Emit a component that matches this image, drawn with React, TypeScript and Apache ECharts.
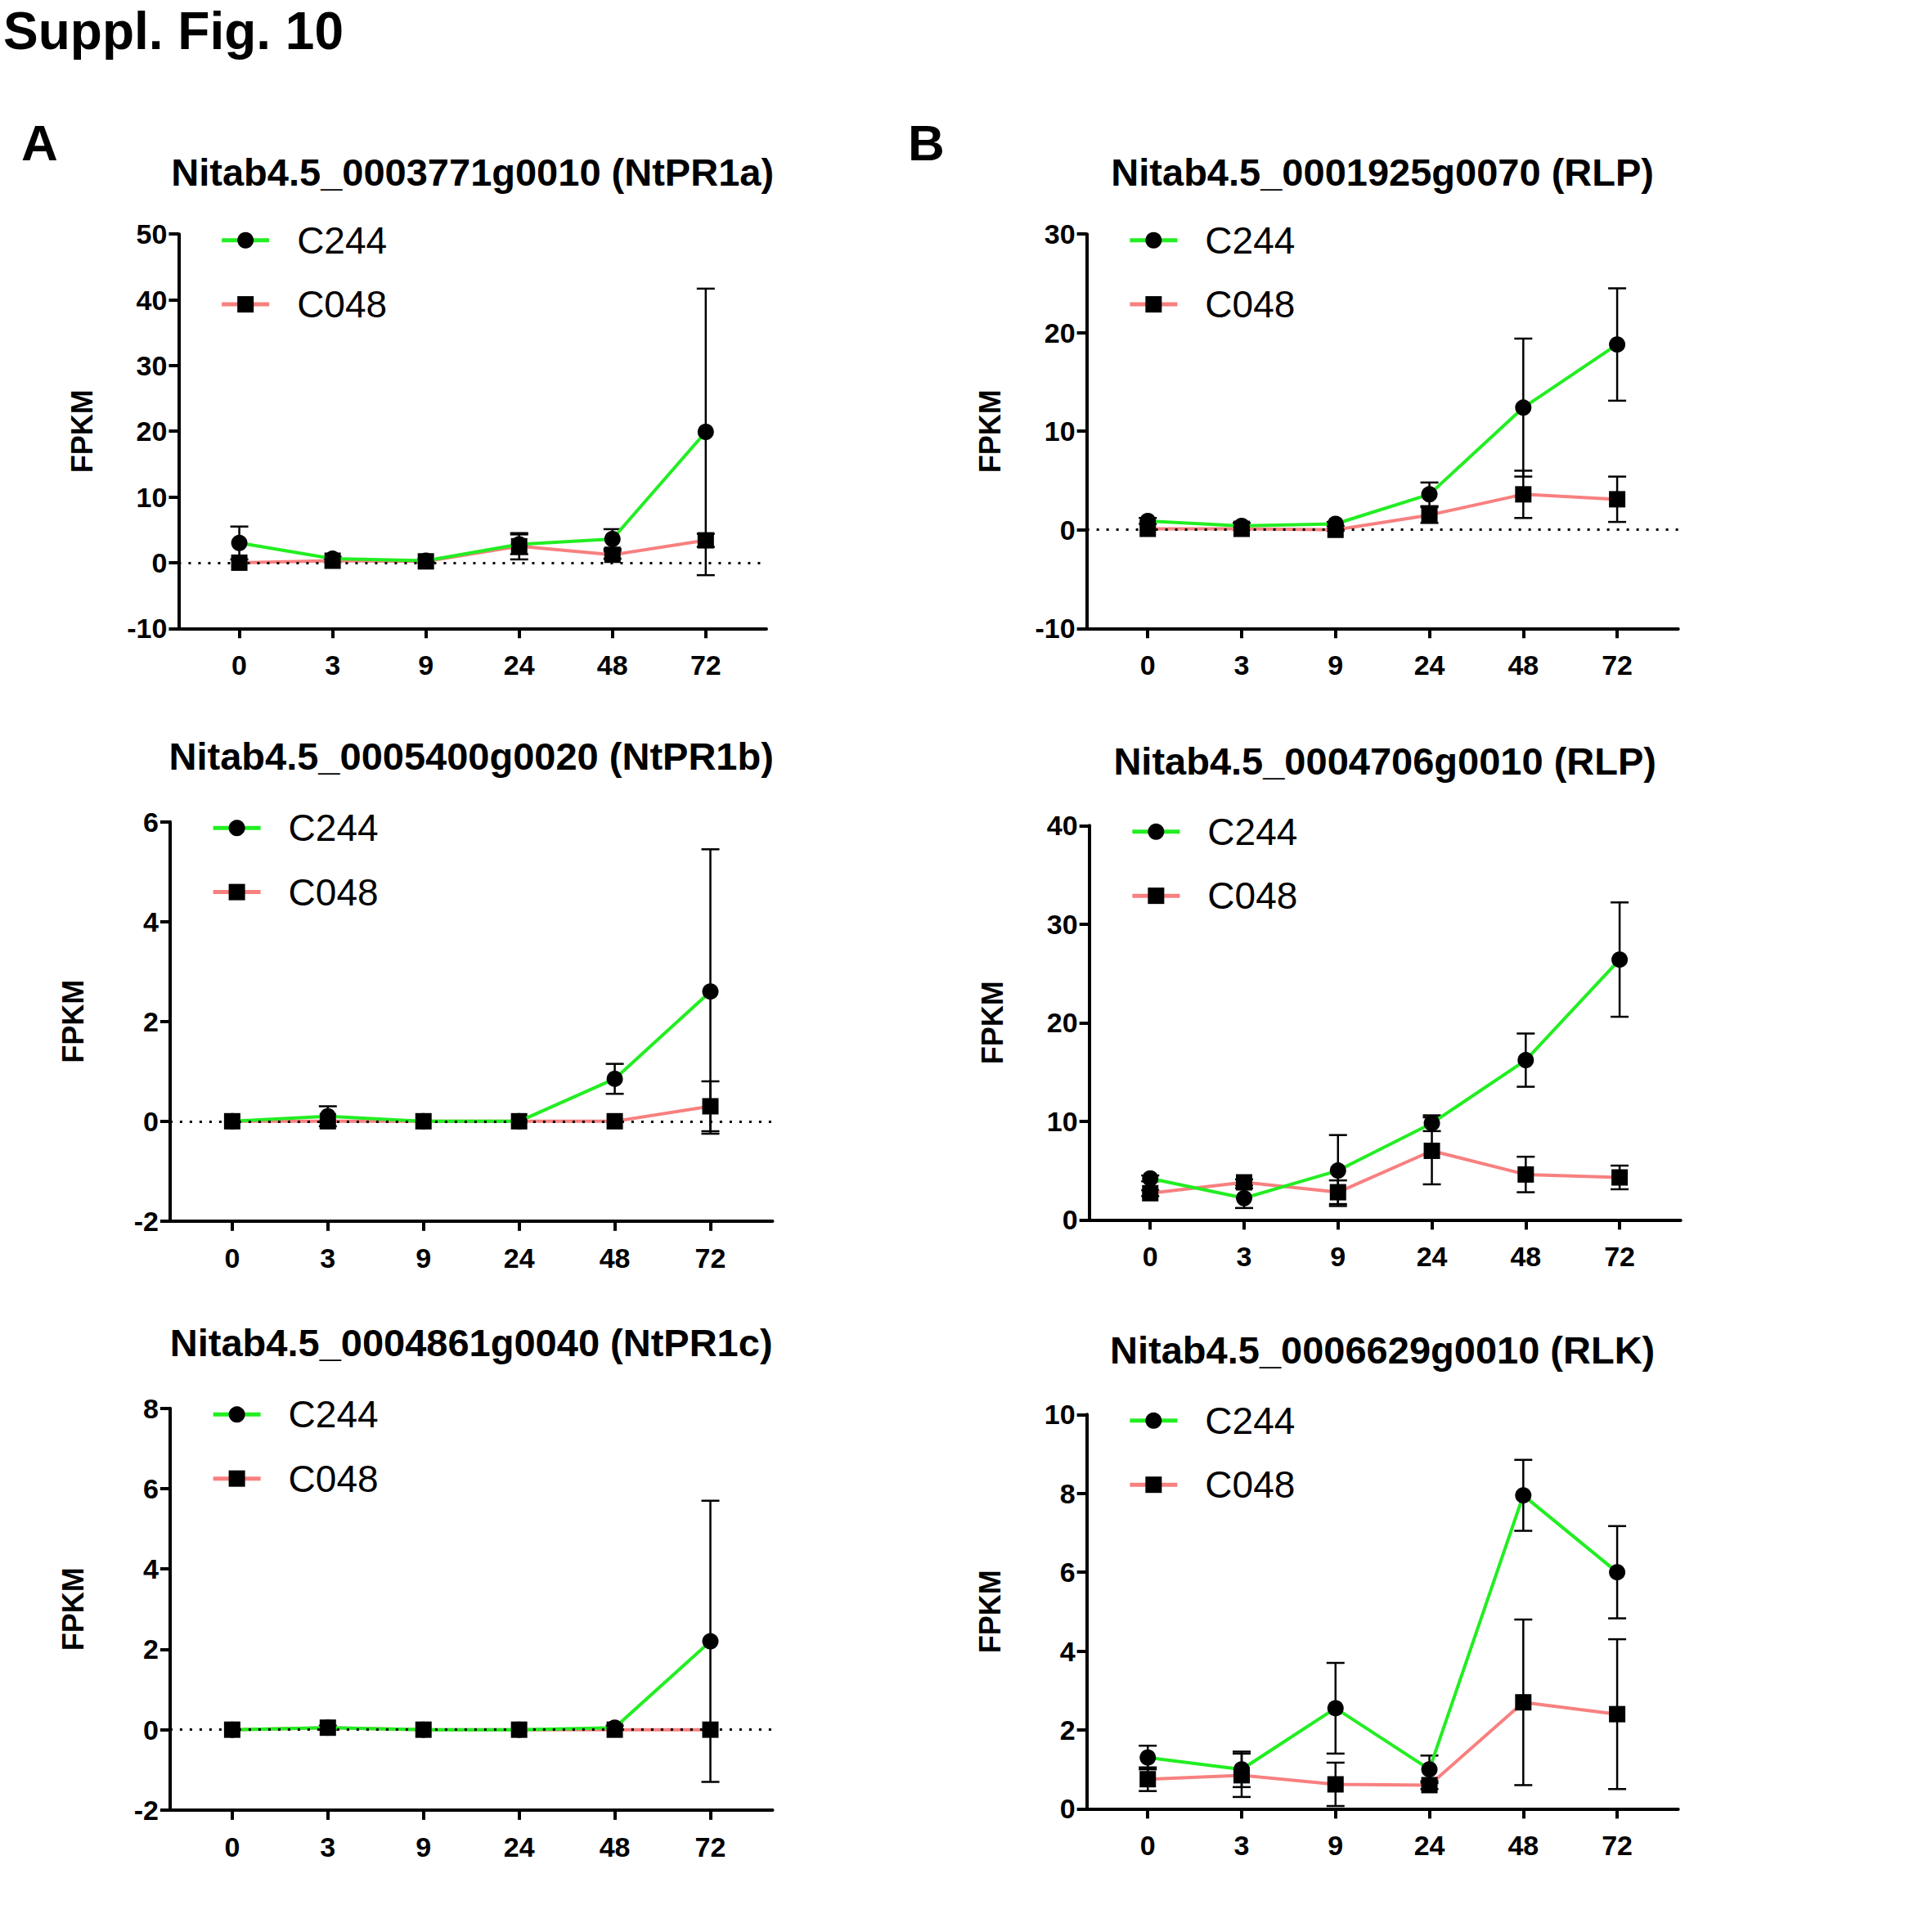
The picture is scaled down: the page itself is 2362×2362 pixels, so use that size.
import React, { useEffect, useRef } from "react";
import * as echarts from "echarts";

const categories = ["0", "3", "9", "24", "48", "72"];
const titles = [
  "Nitab4.5_0003771g0010 (NtPR1a)",
  "Nitab4.5_0005400g0020 (NtPR1b)",
  "Nitab4.5_0004861g0040 (NtPR1c)",
  "Nitab4.5_0001925g0070 (RLP)",
  "Nitab4.5_0004706g0010 (RLP)",
  "Nitab4.5_0006629g0010 (RLK)",
];
const c244 = [
  [3, 0.6, 0.3, 2.8, 3.6, 19.9],
  [0, 0.1, 0, 0, 0.85, 2.6],
  [0, 0.05, 0, 0, 0.05, 2.2],
  [0.9, 0.4, 0.6, 3.6, 12.4, 18.8],
  [4.2, 2.2, 5, 9.8, 16.2, 26.4],
  [1.3, 1.0, 2.55, 1.0, 7.95, 6.0],
];
const c244Err = [
  [2.5, 0.3, 0.2, 1.5, 1.5, 21.8],
  [0, 0.2, 0, 0, 0.3, 2.85],
  [0, 0.05, 0, 0, 0.05, 3.5],
  [0.3, 0.3, 0.2, 1.2, 7, 5.7],
  [0.3, 1, 3.6, 0.8, 2.7, 5.8],
  [0.3, 0.45, 1.15, 0.35, 0.9, 1.17],
];
const c048 = [
  [0, 0.3, 0.2, 2.5, 1.2, 3.4],
  [0, 0, 0, 0, 0, 0.3],
  [0, 0.05, 0, 0, 0, 0],
  [0.1, 0.1, 0, 1.5, 3.6, 3.1],
  [2.7, 3.8, 2.8, 7, 4.6, 4.3],
  [0.75, 0.85, 0.62, 0.6, 2.7, 2.4],
];
const c048Err = [
  [0, 0.2, 0.1, 2, 0.6, 1],
  [0, 0, 0, 0, 0, 0.5],
  [0, 0, 0, 0, 0, 0],
  [0, 0.1, 0.1, 0.8, 2.4, 2.3],
  [0.3, 0.3, 1.2, 3.4, 1.8, 1.2],
  [0.3, 0.55, 0.55, 0.1, 2.1, 1.9],
];
const yMin = [-10, -2, -2, -10, 0, 0];
const yMax = [50, 6, 8, 30, 40, 10];
const yStep = [10, 2, 2, 10, 10, 2];

const S = 2362 / 1568;
// [left, right, top, bottom, titleY] in reference-view coords
const boxes = [
  [145, 622, 190, 510, 140],
  [138, 627, 667, 991, 614],
  [138, 627, 1143, 1469, 1090],
  [882, 1362, 190, 510, 140],
  [884, 1364, 670, 990, 618],
  [882, 1362, 1148, 1468, 1096],
];

export default function App() {
  const ref = useRef<HTMLDivElement>(null);
  useEffect(() => {
    const chart = echarts.init(ref.current!, null, { renderer: "svg" });
    const font = "Liberation Sans, Arial, sans-serif";
    const grid: any[] = [], xAxis: any[] = [], yAxis: any[] = [], series: any[] = [];
    const graphic: any[] = [
      { type: "text", left: 4, top: 6, style: { text: "Suppl. Fig. 10", font: `bold 64px ${font}`, fill: "#000" } },
      { type: "text", left: 26, top: 143, style: { text: "A", font: `bold 62px ${font}`, fill: "#000" } },
      { type: "text", left: 1110, top: 143, style: { text: "B", font: `bold 62px ${font}`, fill: "#000" } },
    ];
    boxes.forEach((b, i) => {
      const [L, R, T, B, TY] = b;
      grid.push({ left: L * S, top: T * S, width: (R - L) * S, height: (B - T) * S });
      xAxis.push({
        type: "value", gridIndex: i, min: -0.65, max: 5.65,
        axisLine: { onZero: false, lineStyle: { color: "#000", width: 4 } },
        axisTick: { show: true, customValues: [0, 1, 2, 3, 4, 5], length: 12, lineStyle: { width: 4, color: "#000" } },
        axisLabel: { customValues: [0, 1, 2, 3, 4, 5], formatter: (v: number) => categories[Math.round(v)], color: "#000", fontWeight: "bold", fontSize: 34, fontFamily: font, margin: 28 },
        splitLine: { show: false },
      });
      yAxis.push({
        type: "value", gridIndex: i, min: yMin[i], max: yMax[i], interval: yStep[i],
        name: "FPKM", nameLocation: "middle", nameGap: 100,
        nameTextStyle: { color: "#000", fontWeight: "bold", fontSize: 36, fontFamily: font },
        axisLine: { show: true, onZero: false, lineStyle: { color: "#000", width: 4 } },
        axisTick: { show: true, length: 12, lineStyle: { width: 4, color: "#000" } },
        axisLabel: { color: "#000", fontWeight: "bold", fontSize: 34, fontFamily: font, margin: 14 },
        splitLine: { show: false },
      });
      const cx = ((L + R) / 2) * S;
      graphic.push({ type: "text", x: cx, y: TY * S, style: { text: titles[i], font: `bold 47px ${font}`, fill: "#000", align: "center", verticalAlign: "middle" } });
      const lx = (L + 35) * S;
      [["C244", "#22ee22", "circle", T + 5], ["C048", "#f88080", "rect", T + 57]].forEach(([name, col, shp, y]: any) => {
        graphic.push({ type: "line", shape: { x1: lx, y1: y * S, x2: lx + 58, y2: y * S }, style: { stroke: col, lineWidth: 5 } });
        if (shp === "circle") graphic.push({ type: "circle", shape: { cx: lx + 29, cy: y * S, r: 10 }, style: { fill: "#000" } });
        else graphic.push({ type: "rect", shape: { x: lx + 19, y: y * S - 10, width: 20, height: 20 }, style: { fill: "#000" } });
        graphic.push({ type: "text", x: lx + 92, y: y * S, style: { text: name, font: `46px ${font}`, fill: "#000", verticalAlign: "middle" } });
      });
      const errSeries = (vals: number[], errs: number[]) => ({
        type: "custom", xAxisIndex: i, yAxisIndex: i, z: 1,
        data: vals.map((v, k) => [k, v, errs[k]]),
        renderItem: (params: any, api: any) => {
          const x = api.value(0), v = api.value(1), e = api.value(2);
          if (!e) return null;
          const top = api.coord([x, v + e]), bot = api.coord([x, v - e]);
          const w = 11;
          const st = { stroke: "#000", lineWidth: 2.5 };
          return {
            type: "group", children: [
              { type: "line", shape: { x1: top[0], y1: top[1], x2: bot[0], y2: bot[1] }, style: st },
              { type: "line", shape: { x1: top[0] - w, y1: top[1], x2: top[0] + w, y2: top[1] }, style: st },
              { type: "line", shape: { x1: bot[0] - w, y1: bot[1], x2: bot[0] + w, y2: bot[1] }, style: st },
            ],
          };
        },
      });
      series.push(errSeries(c244[i], c244Err[i]));
      series.push(errSeries(c048[i], c048Err[i]));
      series.push({
        type: "line", name: "C048", xAxisIndex: i, yAxisIndex: i, z: 3,
        data: c048[i].map((v, k) => [k, v]), symbol: "rect", symbolSize: 20,
        lineStyle: { color: "#f88080", width: 4 }, itemStyle: { color: "#000" },
        markLine: yMin[i] < 0 ? { silent: true, symbol: "none", label: { show: false }, lineStyle: { color: "#000", type: [3, 9], width: 3 }, data: [{ yAxis: 0 }] } : undefined,
      });
      series.push({
        type: "line", name: "C244", xAxisIndex: i, yAxisIndex: i, z: 4,
        data: c244[i].map((v, k) => [k, v]), symbol: "circle", symbolSize: 20,
        lineStyle: { color: "#22ee22", width: 4 }, itemStyle: { color: "#000" },
      });
    });
    chart.setOption({ animation: false, backgroundColor: "#fff", grid, xAxis, yAxis, series, graphic });
    return () => chart.dispose();
  }, []);
  return <div ref={ref} style={{ position: "absolute", left: 0, top: 0, width: 2362, height: 2362 }} />;
}
